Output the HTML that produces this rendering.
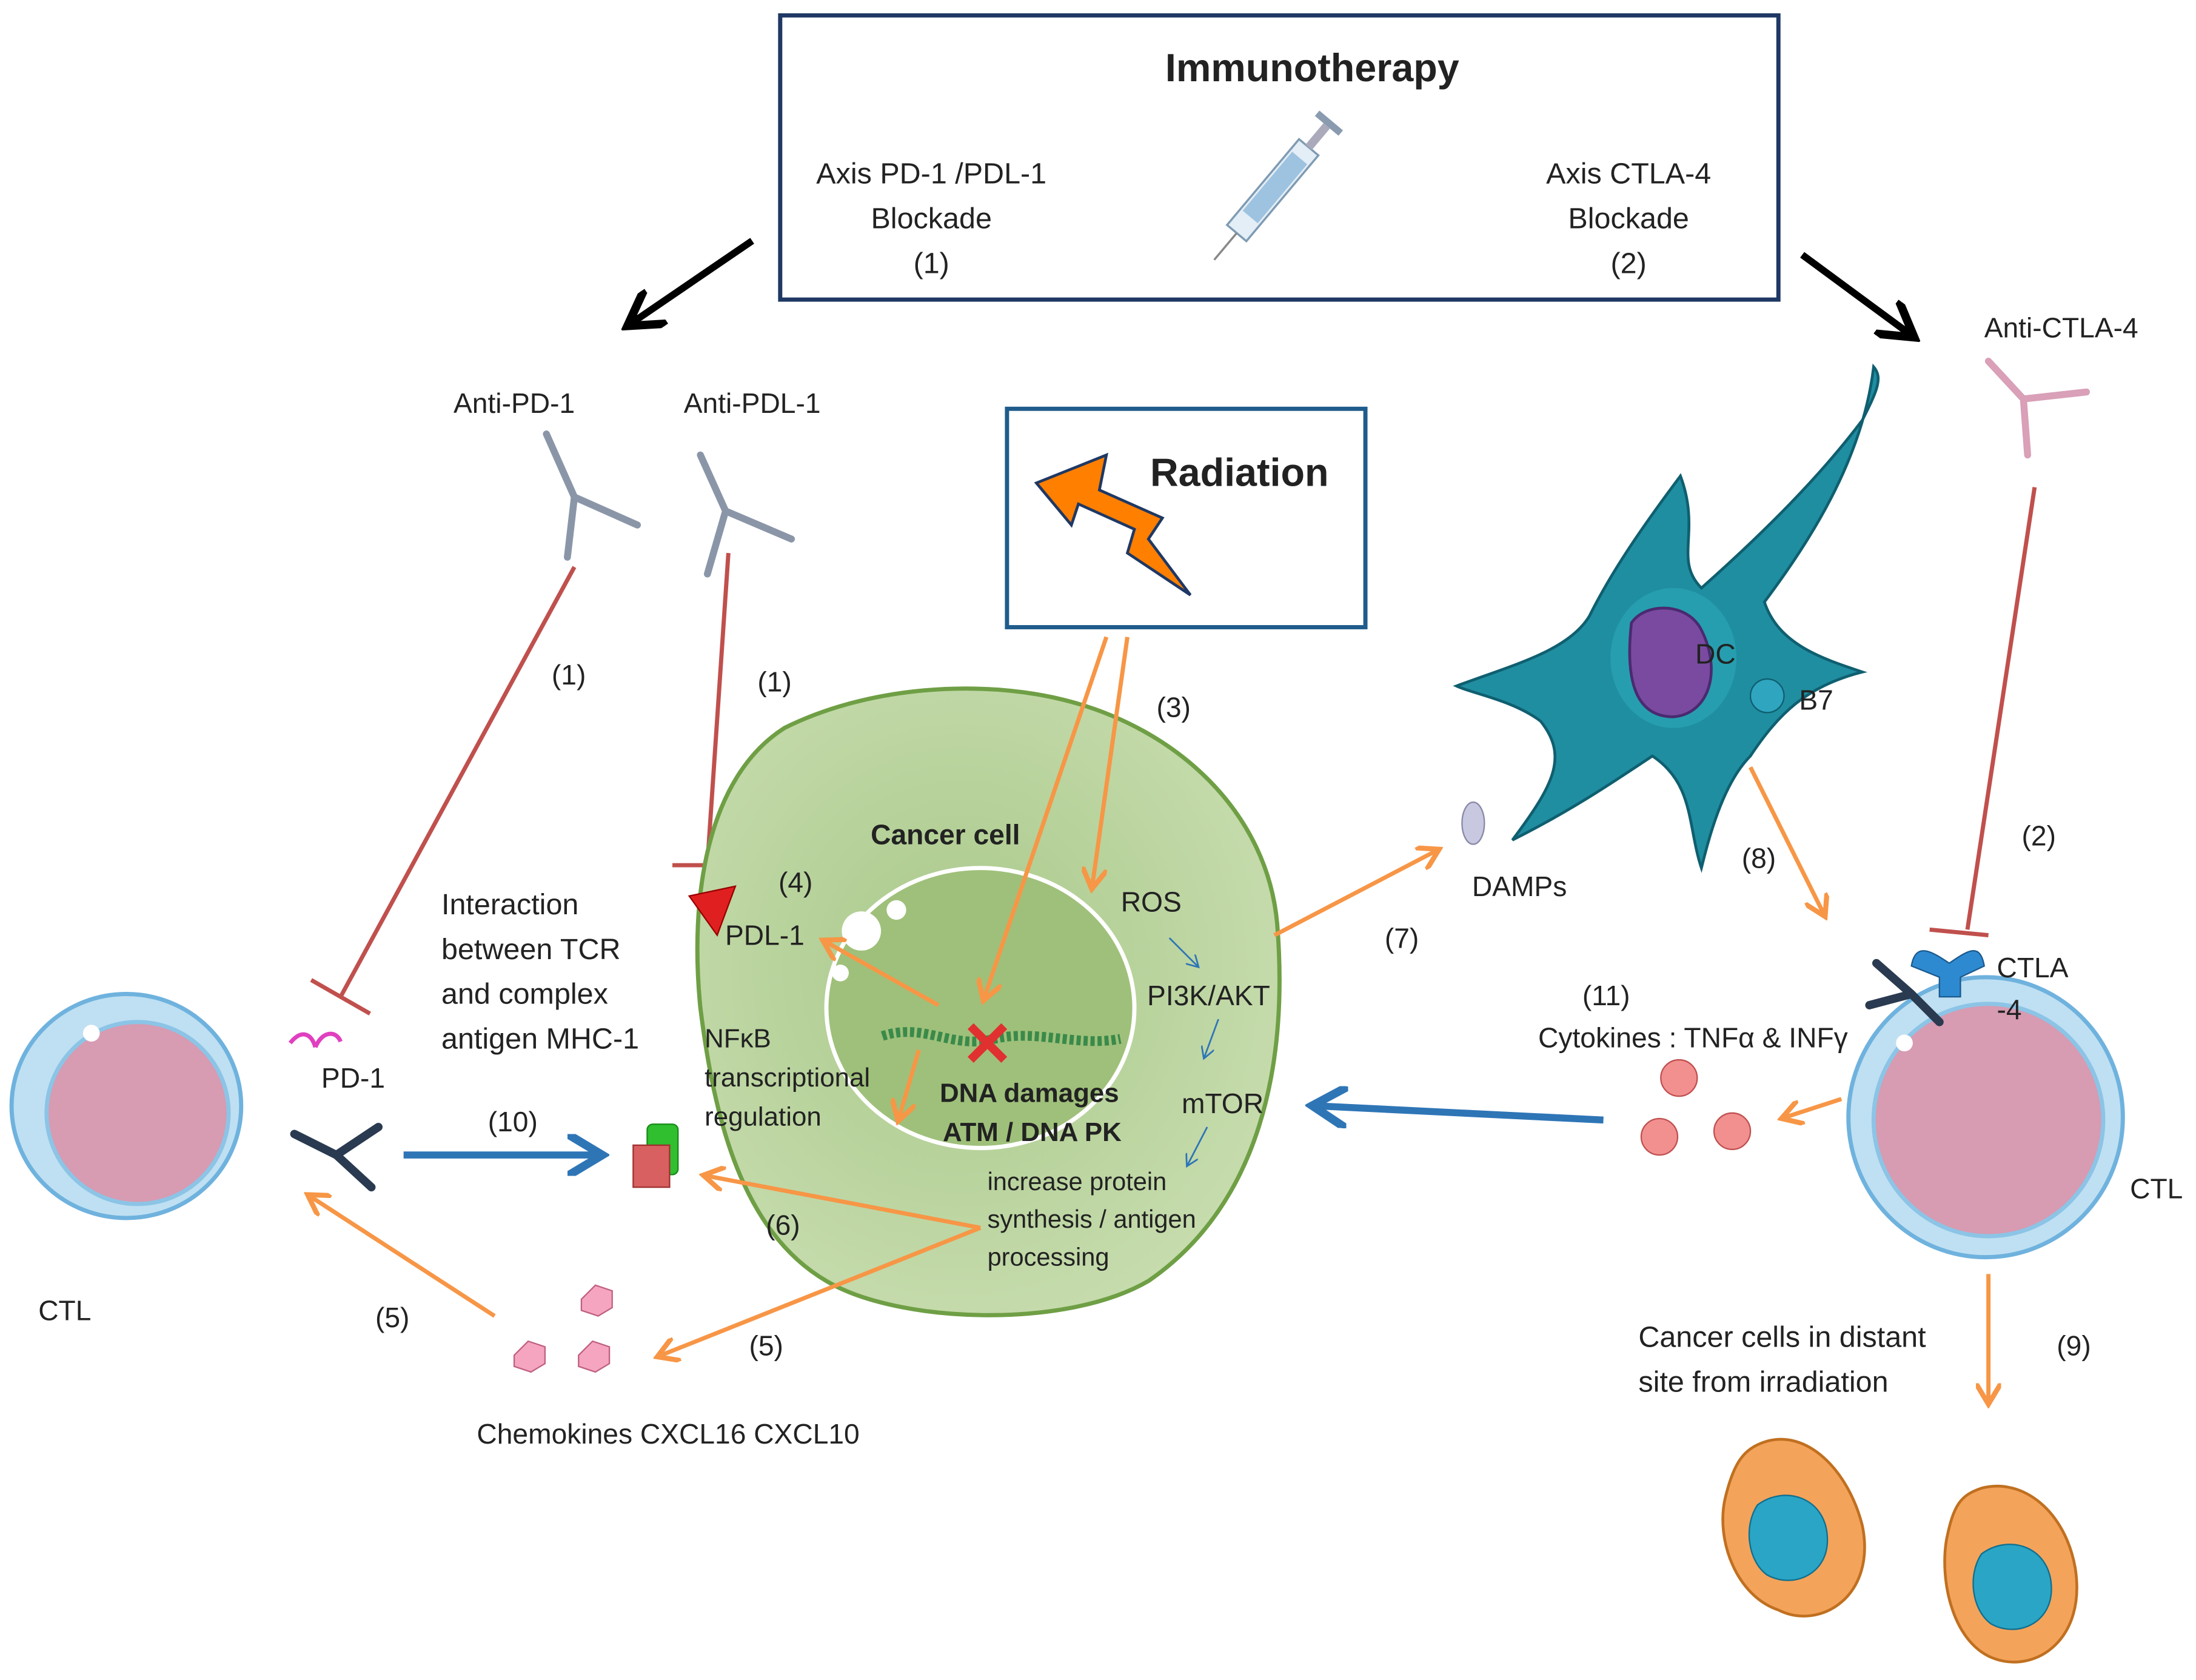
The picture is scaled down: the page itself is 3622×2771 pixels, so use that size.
<!DOCTYPE html>
<html><head><meta charset="utf-8"><style>
html,body{margin:0;padding:0;background:#fff;}
svg{display:block;}
text{font-family:"Liberation Sans",sans-serif;fill:#222;}
</style></head><body>
<svg width="3622" height="2771" viewBox="0 0 1568 1200" xmlns="http://www.w3.org/2000/svg">
<defs>
<marker id="ao" markerWidth="6" markerHeight="6" refX="4" refY="3" orient="auto" markerUnits="strokeWidth"><path d="M0,0 L5,3 L0,6" fill="none" stroke="#f79646" stroke-width="1.2"/></marker>
<marker id="ab" markerWidth="6" markerHeight="6" refX="4" refY="3" orient="auto" markerUnits="strokeWidth"><path d="M0,0 L5,3 L0,6" fill="none" stroke="#2e75b6" stroke-width="1.2"/></marker>
<marker id="ak" markerWidth="6" markerHeight="6" refX="4" refY="3" orient="auto" markerUnits="strokeWidth"><path d="M0,0 L5,3 L0,6" fill="none" stroke="#000" stroke-width="1.2"/></marker>
<marker id="as" markerWidth="8" markerHeight="8" refX="6" refY="4" orient="auto" markerUnits="strokeWidth"><path d="M0,0 L7,4 L0,8" fill="none" stroke="#2e75b6" stroke-width="1"/></marker>
<radialGradient id="gc" cx="45%" cy="45%" r="60%"><stop offset="0" stop-color="#a9c98a"/><stop offset="1" stop-color="#c7dcae"/></radialGradient>
</defs>

<!-- Immunotherapy box -->
<rect x="557" y="11" width="713" height="203" fill="#fff" stroke="#1f3864" stroke-width="3"/>
<text x="937" y="58" font-size="28" font-weight="bold" text-anchor="middle">Immunotherapy</text>
<g font-size="21" text-anchor="middle">
<text x="665" y="131">Axis PD-1 /PDL-1</text><text x="665" y="163">Blockade</text><text x="665" y="195">(1)</text>
<text x="1163" y="131">Axis CTLA-4</text><text x="1163" y="163">Blockade</text><text x="1163" y="195">(2)</text>
</g>
<!-- syringe -->
<g transform="translate(912,132) rotate(-50)">
<rect x="-45" y="-9" width="80" height="18" fill="#e4eef6" stroke="#7f9bb3" stroke-width="1.5"/>
<rect x="-30" y="-7" width="55" height="14" fill="#9ec3e0"/>
<rect x="35" y="-3" width="20" height="6" fill="#aab"/>
<rect x="55" y="-11" width="5" height="22" fill="#8a9bb0"/>
<line x1="-45" y1="0" x2="-70" y2="0" stroke="#888" stroke-width="1.5"/>
</g>
<!-- black arrows -->
<line x1="537" y1="172" x2="452" y2="230" stroke="#000" stroke-width="5" marker-end="url(#ak)"/>
<line x1="1287" y1="182" x2="1363" y2="238" stroke="#000" stroke-width="5" marker-end="url(#ak)"/>

<!-- Radiation box -->
<rect x="719" y="292" width="256" height="156" fill="#fff" stroke="#1f5c8c" stroke-width="3"/>
<polygon points="740,345 790,325 785,350 830,370 820,385 850,425 805,395 810,378 770,360 765,375" fill="#ff7f00" stroke="#1f3864" stroke-width="2"/>
<text x="885" y="347" font-size="28" font-weight="bold" text-anchor="middle">Radiation</text>

<!-- Antibody labels -->
<g font-size="20" text-anchor="middle">
<text x="367" y="295">Anti-PD-1</text><text x="537" y="295">Anti-PDL-1</text><text x="1472" y="241">Anti-CTLA-4</text>
</g>
<!-- antibodies -->
<g stroke="#8a96a8" stroke-width="5" stroke-linecap="round" fill="none">
<path d="M390,310 L410,355 L455,375 M410,355 L405,398"/>
<path d="M500,325 L518,365 L565,385 M518,365 L505,410"/>
</g>
<g stroke="#d9a0b8" stroke-width="5" stroke-linecap="round" fill="none">
<path d="M1420,258 L1445,285 L1490,280 M1445,285 L1448,325"/>
</g>

<!-- red inhibition lines -->
<g stroke="#c0504d" stroke-width="3">
<line x1="410" y1="405" x2="243" y2="712"/><line x1="222" y1="700" x2="264" y2="724"/>
<line x1="520" y1="395" x2="505" y2="617"/><line x1="480" y1="618" x2="530" y2="618"/>
<line x1="1453" y1="348" x2="1405" y2="664"/><line x1="1378" y1="664" x2="1420" y2="668"/>
</g>
<g font-size="20" text-anchor="middle">
<text x="406" y="489">(1)</text><text x="553" y="494">(1)</text><text x="1456" y="604">(2)</text>
<text x="838" y="512">(3)</text>
</g>

<!-- Cancer cell -->
<path d="M560,520 C620,490 700,485 760,500 C840,520 905,580 912,660 C920,760 900,860 820,915 C760,950 640,945 590,915 C530,880 510,800 500,720 C492,640 505,555 560,520 Z" fill="url(#gc)" stroke="#6f9f45" stroke-width="3"/>
<ellipse cx="700" cy="720" rx="110" ry="100" fill="#9fc07a" stroke="#fff" stroke-width="3"/>
<circle cx="615" cy="665" r="14" fill="#fff"/><circle cx="640" cy="650" r="7" fill="#fff"/><circle cx="600" cy="695" r="6" fill="#fff"/>
<path d="M630,740 C660,730 680,750 710,742 C740,735 770,748 800,742" stroke="#3a8a4a" stroke-width="7" fill="none" stroke-dasharray="3,2"/>
<g stroke="#e03030" stroke-width="6"><line x1="693" y1="733" x2="717" y2="757"/><line x1="717" y1="733" x2="693" y2="757"/></g>
<text x="675" y="603" font-size="20" font-weight="bold" text-anchor="middle">Cancer cell</text>
<text x="568" y="637" font-size="20" text-anchor="middle">(4)</text>
<text x="546" y="675" font-size="20" text-anchor="middle">PDL-1</text>
<text x="822" y="651" font-size="20" text-anchor="middle">ROS</text>
<text x="863" y="718" font-size="20" text-anchor="middle">PI3K/AKT</text>
<text x="873" y="795" font-size="20" text-anchor="middle">mTOR</text>
<g font-size="19"><text x="503" y="748">NFκB</text><text x="503" y="776">transcriptional</text><text x="503" y="804">regulation</text></g>
<g font-size="19" font-weight="bold" text-anchor="middle"><text x="735" y="787">DNA damages</text><text x="737" y="815">ATM / DNA PK</text></g>
<g font-size="18"><text x="705" y="850">increase protein</text><text x="705" y="877">synthesis / antigen</text><text x="705" y="904">processing</text></g>
<g stroke="#2e75b6" stroke-width="1.2"><line x1="835" y1="670" x2="855" y2="690" marker-end="url(#as)"/><line x1="870" y1="728" x2="860" y2="755" marker-end="url(#as)"/><line x1="862" y1="805" x2="848" y2="832" marker-end="url(#as)"/></g>
<!-- PDL-1 triangle -->
<polygon points="492,640 525,633 512,668" fill="#e02020" stroke="#900" stroke-width="1"/>
<!-- MHC complex -->
<rect x="462" y="803" width="22" height="36" rx="4" fill="#2fbf2f" stroke="#1a8a1a"/>
<rect x="452" y="818" width="26" height="30" fill="#d86060" stroke="#a03030"/>

<!-- orange arrows -->
<g stroke="#f79646" stroke-width="3" fill="none">
<line x1="790" y1="455" x2="703" y2="712" marker-end="url(#ao)"/>
<line x1="805" y1="455" x2="780" y2="632" marker-end="url(#ao)"/>
<line x1="670" y1="718" x2="590" y2="673" marker-end="url(#ao)"/>
<line x1="656" y1="750" x2="642" y2="798" marker-end="url(#ao)"/>
<line x1="910" y1="668" x2="1025" y2="608" marker-end="url(#ao)"/>
<line x1="700" y1="877" x2="505" y2="840" marker-end="url(#ao)"/>
<line x1="700" y1="877" x2="472" y2="968" marker-end="url(#ao)"/>
<line x1="353" y1="940" x2="222" y2="855" marker-end="url(#ao)"/>
<line x1="1250" y1="548" x2="1302" y2="652" marker-end="url(#ao)"/>
<line x1="1315" y1="785" x2="1275" y2="798" marker-end="url(#ao)"/>
<line x1="1420" y1="910" x2="1420" y2="1000" marker-end="url(#ao)"/>
</g>
<g font-size="20" text-anchor="middle">
<text x="559" y="882">(6)</text><text x="547" y="968">(5)</text><text x="280" y="948">(5)</text>
<text x="1001" y="677">(7)</text><text x="1256" y="620">(8)</text><text x="1147" y="718">(11)</text>
<text x="1481" y="968">(9)</text><text x="366" y="808">(10)</text>
</g>
<!-- blue arrows -->
<line x1="288" y1="825" x2="425" y2="825" stroke="#2e75b6" stroke-width="5" marker-end="url(#ab)"/>
<line x1="1145" y1="800" x2="942" y2="790" stroke="#2e75b6" stroke-width="5" marker-end="url(#ab)"/>

<!-- left CTL -->
<ellipse cx="90" cy="790" rx="82" ry="80" fill="#bfe0f2" stroke="#6fb2de" stroke-width="3"/>
<ellipse cx="98" cy="795" rx="65" ry="65" fill="#d79bb2" stroke="#8cc4e6" stroke-width="3"/>
<circle cx="65" cy="738" r="6" fill="#fff"/>
<path d="M207,745 C215,735 222,738 225,748 M225,748 C230,736 240,736 243,744" stroke="#e040c0" stroke-width="3" fill="none"/>
<path d="M210,810 L240,825 L270,805 M240,825 L265,848" stroke="#2a3a50" stroke-width="6" fill="none" stroke-linecap="round"/>
<text x="252" y="777" font-size="20" text-anchor="middle">PD-1</text>
<text x="46" y="943" font-size="20" text-anchor="middle">CTL</text>
<g font-size="21"><text x="315" y="653">Interaction</text><text x="315" y="685">between TCR</text><text x="315" y="717">and complex</text><text x="315" y="749">antigen MHC-1</text></g>

<!-- chemokines -->
<g fill="#f5a5c0" stroke="#c06080" stroke-width="1">
<polygon points="415,928 425,918 437,922 437,934 427,940 415,936"/>
<polygon points="367,968 377,958 389,962 389,974 379,980 367,976"/>
<polygon points="413,968 423,958 435,962 435,974 425,980 413,976"/>
</g>
<text x="477" y="1031" font-size="20" text-anchor="middle">Chemokines CXCL16 CXCL10</text>

<!-- DC -->
<path d="M1200,340 C1215,380 1195,400 1215,420 C1260,380 1300,340 1330,300 C1340,280 1345,270 1338,262 C1330,330 1290,390 1260,430 C1270,460 1300,470 1330,480 C1290,490 1270,510 1250,540 C1230,560 1220,600 1215,620 C1205,590 1210,560 1180,540 C1150,560 1120,580 1080,600 C1110,560 1120,540 1100,515 C1080,500 1050,495 1040,490 C1080,475 1120,465 1135,440 C1150,410 1170,380 1200,340 Z" fill="#1f8ea0" stroke="#0f5f70" stroke-width="2"/>
<ellipse cx="1195" cy="470" rx="45" ry="50" fill="#2aa5b5" opacity=".7"/>
<path d="M1165,445 C1175,430 1205,430 1215,450 C1230,480 1220,510 1195,512 C1170,512 1160,490 1165,445 Z" fill="#7a4aa0" stroke="#4a2a70" stroke-width="2"/>
<text x="1225" y="474" font-size="20" text-anchor="middle">DC</text>
<circle cx="1262" cy="497" r="12" fill="#2fa5c0" stroke="#0f5f70"/>
<text x="1297" y="507" font-size="20" text-anchor="middle">B7</text>
<ellipse cx="1052" cy="588" rx="8" ry="15" fill="#c8c8e0" stroke="#8888a8"/>
<text x="1085" y="640" font-size="20" text-anchor="middle">DAMPs</text>

<!-- right CTL -->
<ellipse cx="1418" cy="798" rx="98" ry="100" fill="#bfe0f2" stroke="#6fb2de" stroke-width="3"/>
<ellipse cx="1420" cy="800" rx="82" ry="83" fill="#d79bb2" stroke="#8cc4e6" stroke-width="3"/>
<circle cx="1360" cy="745" r="6" fill="#fff"/>
<path d="M1365,690 C1368,672 1380,680 1392,688 C1404,680 1414,672 1417,690 L1400,698 L1400,712 L1385,712 L1385,698 Z" fill="#2e8ad0" stroke="#1a5a90"/>
<path d="M1340,688 L1365,710 M1365,710 L1335,718 M1365,710 L1385,730" stroke="#2a3a50" stroke-width="6" fill="none" stroke-linecap="round"/>
<text x="1426" y="698" font-size="20">CTLA</text><text x="1426" y="728" font-size="20">-4</text>
<text x="1540" y="856" font-size="20" text-anchor="middle">CTL</text>
<text x="1209" y="748" font-size="20" text-anchor="middle">Cytokines : TNFα &amp; INFγ</text>
<g fill="#f29090" stroke="#c05050"><circle cx="1199" cy="770" r="13"/><circle cx="1185" cy="812" r="13"/><circle cx="1237" cy="808" r="13"/></g>
<g font-size="21"><text x="1170" y="962">Cancer cells  in distant</text><text x="1170" y="994">site from irradiation</text></g>

<!-- orange cancer cells -->
<g>
<path d="M1260,1030 C1290,1020 1320,1050 1330,1090 C1340,1140 1300,1165 1270,1150 C1240,1140 1225,1100 1232,1070 C1238,1045 1245,1035 1260,1030 Z" fill="#f4a35a" stroke="#c07020" stroke-width="2"/>
<path d="M1255,1075 C1275,1060 1305,1070 1305,1100 C1305,1125 1280,1135 1262,1125 C1248,1115 1245,1090 1255,1075 Z" fill="#2aa5c5" stroke="#0f6f90"/>
<path d="M1415,1063 C1445,1055 1475,1080 1482,1120 C1490,1170 1455,1195 1425,1185 C1395,1175 1385,1130 1390,1100 C1395,1075 1400,1068 1415,1063 Z" fill="#f4a35a" stroke="#c07020" stroke-width="2"/>
<path d="M1415,1110 C1435,1095 1465,1105 1465,1135 C1465,1160 1440,1170 1422,1160 C1408,1150 1405,1125 1415,1110 Z" fill="#2aa5c5" stroke="#0f6f90"/>
</g>
</svg>
</body></html>
